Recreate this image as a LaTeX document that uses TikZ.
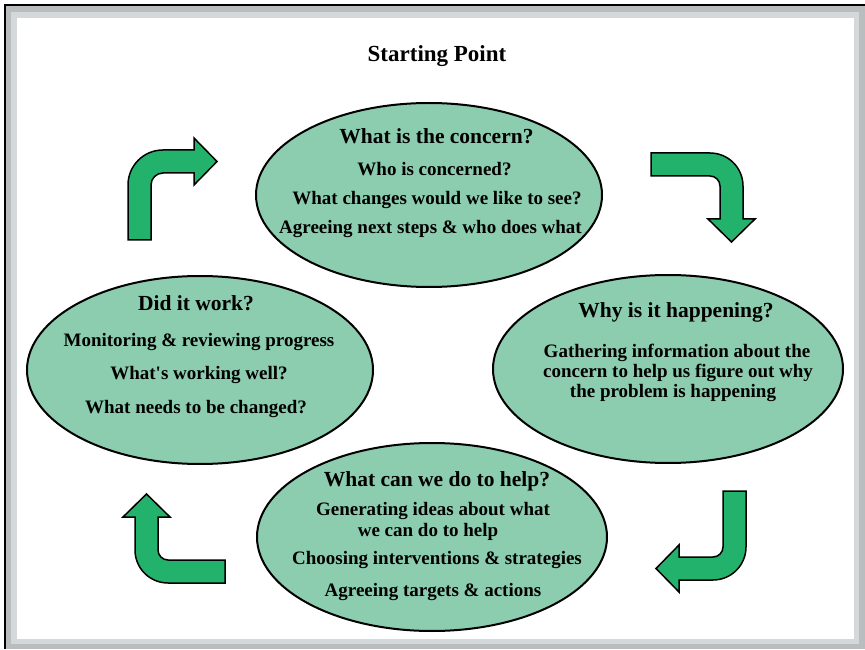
\documentclass[tikz,border=0pt]{standalone}
\usepackage{fontspec}
\setmainfont{Liberation Serif}
\usetikzlibrary{shapes.geometric}
\definecolor{ellfill}{RGB}{140,205,176}
\definecolor{arrfill}{RGB}{35,178,108}
\definecolor{framedark}{RGB}{185,189,189}
\definecolor{framelight}{RGB}{213,216,216}
\tikzset{
  bubble/.style={ellipse, draw=black, line width=2pt, fill=ellfill, inner sep=0pt},
  bentarrow/.style={draw=black, line width=1.5pt, fill=arrfill, line join=miter},
  titletext/.style={anchor=base, inner sep=0pt, font=\bfseries\fontsize{23}{26}\selectfont},
  headtext/.style={anchor=base, inner sep=0pt, font=\bfseries\fontsize{21.5}{24}\selectfont},
  subtext/.style={anchor=base, inner sep=0pt, font=\bfseries\fontsize{19}{22}\selectfont}
}
\begin{document}
\begin{tikzpicture}[x=1pt,y=1pt]
\useasboundingbox (0,0) rectangle (865,649);
% frame
\fill[framedark] (5,0) rectangle (865,644);
\fill[framelight] (11,5) rectangle (859,637);
\fill[white] (17,10) rectangle (854,630.5);
\draw[black, line width=2pt] (5,0) -- (5,644) -- (865,644);

% title
\node[titletext] (title) at (437,587) {Starting Point};

% ellipses
\node[bubble, minimum width=346pt, minimum height=184pt] (concern) at (429,454) {};
\node[bubble, minimum width=350pt, minimum height=188pt] (why) at (668,280) {};
\node[bubble, minimum width=350pt, minimum height=188pt] (help) at (432,112) {};
\node[bubble, minimum width=346pt, minimum height=188pt] (work) at (200,279) {};

% top ellipse text
\node[headtext] (c0) at (436.5,505) {What is the concern?};
\node[subtext] (c1) at (434.5,473) {Who is concerned?};
\node[subtext] (c2) at (437,444) {What changes would we like to see?};
\node[subtext] (c3) at (430.5,415) {Agreeing next steps \& who does what};

% right ellipse text
\node[headtext] (w0) at (676,331) {Why is it happening?};
\node[subtext] (w1) at (677,292) {Gathering information about the};
\node[subtext] (w2) at (678,272) {concern to help us figure out why};
\node[subtext] (w3) at (673,252) {the problem is happening};

% bottom ellipse text
\node[headtext] (h0) at (437,163) {What can we do to help?};
\node[subtext] (h1) at (433,134) {Generating ideas about what};
\node[subtext] (h2) at (428,113) {we can do to help};
\node[subtext] (h3) at (437,85) {Choosing interventions \& strategies};
\node[subtext] (h4) at (433,53) {Agreeing targets \& actions};

% left ellipse text
\node[headtext] (d0) at (196,338) {Did it work?};
\node[subtext] (d1) at (199,302) {Monitoring \& reviewing progress};
\node[subtext] (d2) at (199,270) {What\textquotesingle s working well?};
\node[subtext] (d3) at (196,236) {What needs to be changed?};

% bent arrows
% top-left
\draw[bentarrow] (128,409) -- (128,464) arc(180:90:35) -- (194,499) -- (194,511) -- (217,487.5) -- (194,464) -- (194,476) -- (163,476) arc(90:180:12) -- (151,409) -- cycle;
% top-right
\draw[bentarrow] (651,496) -- (710,496) arc(90:0:33) -- (743,430) -- (755,430) -- (731.5,407) -- (708,430) -- (720,430) -- (720,463) arc(0:90:10) -- (651,473) -- cycle;
% bottom-right
\draw[bentarrow] (746,158) -- (746,102) arc(0:-90:33) -- (679,69) -- (679,57) -- (656,80.5) -- (679,104) -- (679,92) -- (713,92) arc(-90:0:10) -- (723,158) -- cycle;
% bottom-left
\draw[bentarrow] (225,66) -- (168,66) arc(-90:-180:33) -- (135,132) -- (123,132) -- (146.5,155) -- (170,132) -- (158,132) -- (158,99) arc(180:270:10) -- (225,89) -- cycle;
\end{tikzpicture}
\end{document}
